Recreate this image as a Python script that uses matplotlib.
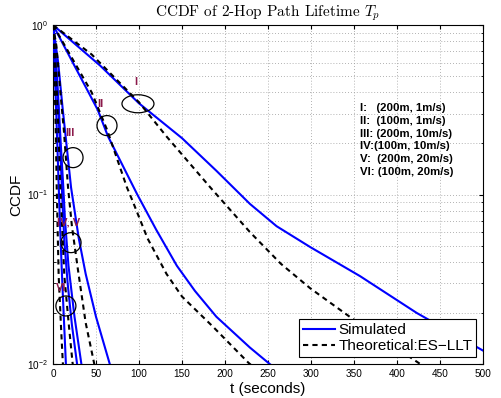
import numpy as np
import matplotlib
matplotlib.use("Agg")
import matplotlib.pyplot as plt
import matplotlib.transforms as mtransforms
from matplotlib.patches import Ellipse

plt.rcParams['font.family'] = ['Liberation Sans', 'DejaVu Sans']
plt.rcParams['mathtext.fontset'] = 'custom'
plt.rcParams['mathtext.rm'] = 'Liberation Sans'
plt.rcParams['mathtext.it'] = 'Liberation Sans:italic'

# ---- data (t in seconds, CCDF) ----
sim_I_t = [0, 55, 100, 150, 190, 229, 260, 299, 357, 423, 500]
sim_I_p = [1, 0.575, 0.345, 0.215, 0.138, 0.088, 0.065, 0.049, 0.033, 0.020, 0.012]
th_I_t = [0, 45, 100, 132, 183, 229, 265, 299, 345, 427, 460]
th_I_p = [1, 0.67, 0.35, 0.22, 0.11, 0.060, 0.039, 0.028, 0.019, 0.010, 0.008]

sim_II_t = [0, 52, 64, 98, 120, 144, 165, 190, 229, 252, 270]
sim_II_p = [1, 0.316, 0.22, 0.10, 0.062, 0.038, 0.027, 0.019, 0.0125, 0.010, 0.0085]
th_II_t = [0, 45, 63, 86, 92, 110, 132, 150, 186, 227, 245]
th_II_p = [1, 0.40, 0.24, 0.11, 0.093, 0.055, 0.034, 0.025, 0.0166, 0.0102, 0.0085]

sim_III_t = [0, 6, 11, 21, 30, 38, 50, 66, 72]
sim_III_p = [1, 0.6, 0.33, 0.11, 0.055, 0.034, 0.019, 0.010, 0.0085]
th_III_t = [0, 4, 9, 12.6, 17.5, 22, 29, 38, 48, 52]
th_III_p = [1, 0.75, 0.38, 0.24, 0.11, 0.065, 0.036, 0.0175, 0.010, 0.0085]

sim_IV_t = [0, 3, 6, 9, 11, 13, 17, 22, 28, 31]
sim_IV_p = [1, 0.62, 0.33, 0.16, 0.09, 0.055, 0.030, 0.017, 0.010, 0.008]
sim_V_t = [0, 3, 6, 9, 12, 14, 18, 25, 33, 36]
sim_V_p = [1, 0.66, 0.38, 0.20, 0.11, 0.07, 0.038, 0.019, 0.010, 0.008]
th_IVV_t = [0, 2, 4.5, 6.3, 8.6, 13.2, 18.6, 22.7, 25]
th_IVV_p = [1, 0.75, 0.40, 0.24, 0.11, 0.033, 0.0166, 0.0102, 0.0085]

sim_VI_t = [0, 2, 4, 6, 8, 10, 12, 15, 17]
sim_VI_p = [1, 0.55, 0.28, 0.14, 0.07, 0.038, 0.022, 0.010, 0.0075]
th_VI_t = [0, 1, 2.2, 3.2, 4.3, 6.6, 9.3, 11.4, 12.5]
th_VI_p = [1, 0.75, 0.40, 0.24, 0.11, 0.033, 0.0166, 0.0102, 0.0085]

sim_series = [(sim_I_t, sim_I_p), (sim_II_t, sim_II_p), (sim_III_t, sim_III_p),
              (sim_IV_t, sim_IV_p), (sim_V_t, sim_V_p), (sim_VI_t, sim_VI_p)]
th_series = [(th_I_t, th_I_p), (th_II_t, th_II_p), (th_III_t, th_III_p),
             (th_IVV_t, th_IVV_p), (th_VI_t, th_VI_p)]

# annotation labels (text, t, p) and ellipses (t, p, width_px, height_px)
labels = [("I", 95, 0.44), ("II", 52, 0.33), ("III", 14, 0.22),
          ("IV, V", 4.3, 0.066), ("VI", 3.5, 0.027)]
ellipses = [(98.8, 0.343, 32, 18), (62.8, 0.255, 20, 20), (23.3, 0.165, 20, 20),
            (21, 0.052, 20, 20), (15, 0.022, 20, 20)]

legend_text = ["I:   (200m, 1m/s)", "II:  (100m, 1m/s)", "III: (200m, 10m/s)",
               "IV:(100m, 10m/s)", "V:  (200m, 20m/s)", "VI: (100m, 20m/s)"]

W, H = 501, 398
fig = plt.figure(figsize=(W / 100, H / 100), dpi=100)
ax = fig.add_axes([53 / W, 1 - 364 / H, 430 / W, 339 / H])

for i, (t, p) in enumerate(sim_series):
    ax.plot(t, p, color='#0000FF', lw=1.5, label='Simulated' if i == 0 else None, zorder=3)
for i, (t, p) in enumerate(th_series):
    ax.plot(t, p, color='black', lw=1.5, ls=(0, (2.5, 2)),
            label='Theoretical:ES\u2212LLT' if i == 0 else None, zorder=4)

ax.set_yscale('log')
ax.set_xlim(0, 500)
ax.set_ylim(0.01, 1)
ax.set_xticks(np.arange(0, 501, 50))
ax.grid(True, which='major', ls=(0, (1, 2.5)), color='#999999', lw=0.6)
ax.grid(True, which='minor', axis='y', ls=(0, (1, 2.5)), color='#999999', lw=0.6)
ax.tick_params(which='both', direction='in', top=True, right=True, labelsize=7.2, length=3)
ax.tick_params(which='minor', length=1.8)
for s in ax.spines.values():
    s.set_linewidth(0.8)

maroon = '#8B1A4B'
for txt, t, p in labels:
    ax.text(t, p, txt, color=maroon, fontsize=8, fontweight='bold', ha='left', va='baseline', zorder=6)

for t, p, w, h in ellipses:
    tr = fig.dpi_scale_trans + mtransforms.ScaledTranslation(t, p, ax.transData)
    e = Ellipse((0, 0), w / 100, h / 100, transform=tr, fill=False, ec='black', lw=0.9, zorder=6)
    ax.add_artist(e)

for i, s in enumerate(legend_text):
    fig.text(360 / W, 1 - (111 + i * 12.8) / H, s, fontsize=8.2, fontweight='bold', ha='left', va='baseline')

ax.set_title('CCDF of 2-Hop Path Lifetime $T_p$', fontsize=11, family='cmr10',
             math_fontfamily='cm', pad=6)
ax.set_xlabel('t (seconds)', fontsize=11, labelpad=2)
ax.set_ylabel('CCDF', fontsize=11, labelpad=3)

leg = ax.legend(loc='lower right', fontsize=11, frameon=True, fancybox=False,
                edgecolor='black', borderpad=0.25, handlelength=2.1, handletextpad=0.2,
                labelspacing=0.15, borderaxespad=0.45)
leg.get_frame().set_linewidth(0.8)
leg.get_frame().set_alpha(1)

fig.savefig('out.png', dpi=100)
